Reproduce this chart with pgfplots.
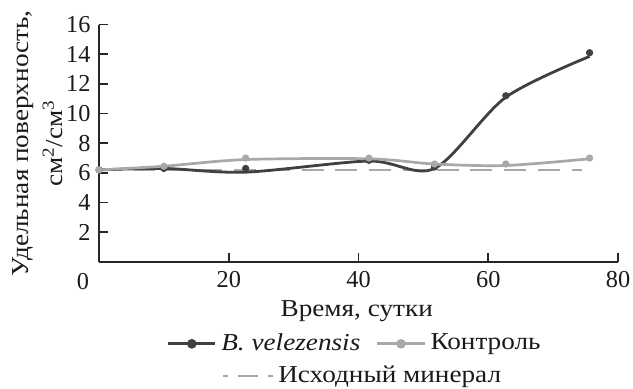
\documentclass[border=0pt]{standalone}
\usepackage{fontspec}
\setmainfont{Liberation Serif}[FakeStretch=1.12]
\newfontfamily\tickfont{Liberation Serif}
\usepackage{pgfplots}
\pgfplotsset{compat=1.18}
\definecolor{cdark}{HTML}{404040}
\definecolor{clight}{HTML}{A8A8A8}
\definecolor{caxis}{HTML}{262626}
\definecolor{ctext}{HTML}{1A1A1A}
\begin{document}
\fontsize{10.8}{13}\selectfont
\begin{tikzpicture}
\pgfplotsset{common/.style={scale only axis, width=230.7pt, height=105.5pt,
  xmin=0, xmax=80, ymin=0, ymax=16, at={(0,0)}, anchor=south west,
  clip=false}}
% hidden axis: dashed reference line and its legend (second legend row)
\begin{axis}[common, hide axis,
  legend style={at={(axis description cs:0.51,-0.48)}, anchor=center,
    draw=none, fill=none, text=ctext, inner sep=1pt},
  legend image code/.code={\draw[clight,line width=1.1pt,dash pattern=on 2pt off 4.5pt on 9pt off 4.5pt on 2pt] (0pt,0pt) -- (22pt,0pt);}]
\addplot[clight, line width=1.2pt, dash pattern=on 9.8pt off 5.2pt] coordinates {(0,6.2) (74.5,6.2)};
\addlegendentry{Исходный минерал}
\end{axis}
\begin{axis}[common,
  axis x line=bottom, axis y line=left,
  axis line style={caxis, line width=0.8pt, -},
  tick style={caxis, line width=0.8pt},
  tick align=inside, major tick length=4pt,
  xtick={20,40,60,80}, ytick={2,4,...,16},
  /pgf/number format/assume math mode=true,
  tick label style={text=ctext, font=\tickfont\fontsize{10.8}{12}\selectfont},
  xticklabel style={yshift=-0.5pt},
  legend columns=2,
  legend style={at={(axis description cs:0.495,-0.345)}, anchor=center,
    draw=none, fill=none, text=ctext, inner sep=1pt,
    /tikz/every even column/.append style={column sep=5pt}},
  ]
% B. velezensis
\addplot[cdark, line width=1.25pt, smooth, tension=0.5,
  legend image code/.code={\draw[cdark,line width=1.2pt] (0pt,0pt) -- (21pt,0pt); \fill[cdark] (10.5pt,0pt) circle (1.5pt);}]
  coordinates {(0,6.2) (10,6.3) (22.6,6.05) (41.6,6.8) (51.7,6.3) (62.7,11.1) (75.6,13.85)};
\addlegendentry{\textit{B. velezensis}}
% Контроль
\addplot[clight, line width=1.2pt, smooth, tension=0.5,
  legend image code/.code={\draw[clight,line width=1.2pt] (0pt,0pt) -- (21pt,0pt); \fill[clight] (10.5pt,0pt) circle (1.5pt);}]
  coordinates {(0,6.2) (10,6.45) (22.6,6.9) (41.6,6.95) (51.7,6.6) (62.7,6.5) (75.6,6.95)};
\addlegendentry{Контроль}
% markers
\addplot[only marks, mark=*, mark size=1.4pt, cdark, forget plot]
  coordinates {(0,6.2) (10,6.3) (22.6,6.3) (41.6,6.85) (51.7,6.4) (62.7,11.2) (75.6,14.1)};
\addplot[only marks, mark=*, mark size=1.4pt, clight, forget plot]
  coordinates {(0,6.2) (10,6.45) (22.6,7.0) (41.6,7.0) (51.7,6.6) (62.7,6.6) (75.6,7.0)};
\node[text=ctext, font=\tickfont\fontsize{10.8}{12}\selectfont] at ([xshift=-7.1pt,yshift=-8.6pt]axis cs:0,0) {0};
\node[text=ctext, anchor=base] at (axis description cs:0.4965,-0.2316) {Время, сутки};
\node[text=ctext, rotate=90, align=center, anchor=center, inner sep=0pt,
  font=\fontsize{10.8}{15.3}\selectfont]
  at (axis description cs:-0.118,0.5)
  {Удельная поверхность,\\ см\textsuperscript{2}/см\textsuperscript{3}};
\end{axis}
\pgfresetboundingbox
\path[use as bounding box] (-44pt,-56.4pt) rectangle (237.3pt,116.4pt);
\end{tikzpicture}
\end{document}
